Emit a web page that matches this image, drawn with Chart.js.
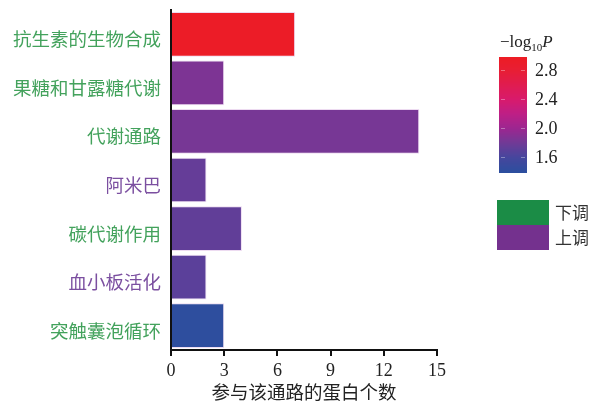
<!DOCTYPE html>
<html>
<head>
<meta charset="utf-8">
<script src="https://cdn.jsdelivr.net/npm/chart.js@4"></script>
<style>
  html, body { margin: 0; padding: 0; background: #ffffff; }
  #wrap { width: 592px; height: 406px; position: relative; }
</style>
</head>
<body>
<div id="wrap"><canvas id="c" width="592" height="406"></canvas></div>
<script>
// Pathways and the number of proteins involved in each
const pathways = ['抗生素的生物合成', '果糖和甘露糖代谢', '代谢通路', '阿米巴', '碳代谢作用', '血小板活化', '突触囊泡循环'];
const proteinCounts = [7, 3, 14, 2, 4, 2, 3];
// -log10 P of each pathway (sets the bar colour)
const negLogP = [2.95, 1.86, 1.83, 1.75, 1.73, 1.70, 1.41];
// Regulation direction of each pathway (sets the label colour)
const regulation = ['下调', '下调', '下调', '上调', '下调', '上调', '下调'];
// Colour bar ticks
const colorbarTicks = [2.8, 2.4, 2.0, 1.6];
const xTicks = [0, 3, 6, 9, 12, 15];

const CJK = '"Noto Sans CJK SC", "Noto Sans CJK JP", sans-serif';
const SERIF = '"Liberation Serif", "DejaVu Serif", serif';
const GREEN_TEXT = '#43a25c';
const PURPLE_TEXT = '#7b4fa0';
const regColors = { '下调': '#1b8c46', '上调': '#74318e' };

// Blue -> purple -> magenta -> red colour map for -log10 P
const cmap = [
  [1.38, [42, 79, 158]],
  [1.60, [70, 70, 157]],
  [1.80, [112, 58, 150]],
  [2.00, [156, 38, 144]],
  [2.20, [190, 31, 134]],
  [2.40, [216, 26, 108]],
  [2.60, [224, 28, 80]],
  [2.80, [232, 30, 52]],
  [2.98, [237, 28, 36]]
];
function colorFor(v) {
  if (v <= cmap[0][0]) return 'rgb(' + cmap[0][1].join(',') + ')';
  for (let i = 1; i < cmap.length; i++) {
    if (v <= cmap[i][0]) {
      const [v0, c0] = cmap[i - 1], [v1, c1] = cmap[i];
      const t = (v - v0) / (v1 - v0);
      const c = c0.map((a, k) => Math.round(a + (c1[k] - a) * t));
      return 'rgb(' + c.join(',') + ')';
    }
  }
  return 'rgb(' + cmap[cmap.length - 1][1].join(',') + ')';
}
const barColors = negLogP.map(colorFor);

// Colour bar, its title and the regulation key on the right
const sidePanel = {
  id: 'sidePanel',
  afterDraw(chart) {
    const ctx = chart.ctx;
    ctx.save();
    const cbX = 499, cbW = 28, cbTop = 57, cbBot = 173;
    const yOf = v => 128 - (v - 2.0) * 72.5;
    const vTop = 2.0 + (128 - cbTop) / 72.5, vBot = 2.0 + (128 - cbBot) / 72.5;
    for (let y = cbTop; y < cbBot; y++) {
      const v = vTop - (y - cbTop) / (cbBot - cbTop) * (vTop - vBot);
      ctx.fillStyle = colorFor(v);
      ctx.fillRect(cbX, y, cbW, 1);
    }
    ctx.strokeStyle = 'rgba(255,255,255,0.35)';
    ctx.lineWidth = 1;
    ctx.font = '18px ' + SERIF;
    ctx.fillStyle = '#222';
    ctx.textAlign = 'left';
    ctx.textBaseline = 'middle';
    colorbarTicks.forEach(v => {
      const y = Math.round(yOf(v)) + 0.5;
      ctx.beginPath();
      ctx.moveTo(cbX + 2, y); ctx.lineTo(cbX + 6, y);
      ctx.moveTo(cbX + cbW - 6, y); ctx.lineTo(cbX + cbW - 2, y);
      ctx.stroke();
      ctx.fillText(v.toFixed(1), 535, y + 1);
    });
    // title: −log10P
    ctx.textBaseline = 'alphabetic';
    let x = 500;
    const base = 47;
    ctx.font = '17px ' + SERIF;
    ctx.fillText('\u2212log', x, base);
    x += ctx.measureText('\u2212log').width;
    ctx.font = '11px ' + SERIF;
    ctx.fillText('10', x, base + 4);
    x += ctx.measureText('10').width;
    ctx.font = 'italic 17px ' + SERIF;
    ctx.fillText('P', x, base);

    // regulation key
    const keys = ['下调', '上调'];
    ctx.font = '17px ' + CJK;
    ctx.textBaseline = 'middle';
    keys.forEach((k, i) => {
      const y0 = 200 + i * 25;
      ctx.fillStyle = regColors[k];
      ctx.fillRect(497, y0, 52, 25);
      ctx.fillStyle = '#333';
      ctx.fillText(k, 555, y0 + 12.5);
    });
    ctx.restore();
  }
};

new Chart(document.getElementById('c'), {
  type: 'bar',
  data: {
    labels: pathways,
    datasets: [{
      data: proteinCounts,
      backgroundColor: barColors,
      borderColor: 'rgba(235,215,240,0.9)',
      borderWidth: 1,
      categoryPercentage: 1.0,
      barPercentage: 0.92
    }]
  },
  options: {
    indexAxis: 'y',
    responsive: false,
    animation: false,
    devicePixelRatio: 1,
    layout: { padding: { top: 10, right: 155, left: 0, bottom: 0 } },
    plugins: { legend: { display: false }, tooltip: { enabled: false } },
    scales: {
      x: {
        min: 0, max: 15,
        afterFit(s) { s.height = 56; },
        afterBuildTicks(s) { s.ticks = xTicks.map(v => ({ value: v })); },
        grid: { display: true, drawOnChartArea: false, drawTicks: true, tickLength: 6, color: '#111', lineWidth: 2 },
        border: { display: true, color: '#111', width: 2 },
        ticks: { color: '#222', font: { family: SERIF, size: 18 }, padding: 4, maxRotation: 0 },
        title: { display: true, text: '参与该通路的蛋白个数', color: '#222', font: { family: CJK, size: 18.5 }, padding: { top: 0, bottom: 3 } }
      },
      y: {
        afterFit(s) { s.width = 171; s.paddingTop = 0; s.paddingBottom = 0; },
        grid: { display: false, drawTicks: false },
        border: { display: true, color: '#111', width: 2 },
        ticks: {
          padding: 10,
          // an empty first line nudges each label slightly below the bar centre
          callback(value, index) { return ['', pathways[index]]; },
          font: { family: CJK, size: 18.5, lineHeight: 0.54 },
          color: ctx => regulation[ctx.index] === '上调' ? PURPLE_TEXT : GREEN_TEXT
        }
      }
    }
  },
  plugins: [sidePanel]
});
</script>
</body>
</html>
